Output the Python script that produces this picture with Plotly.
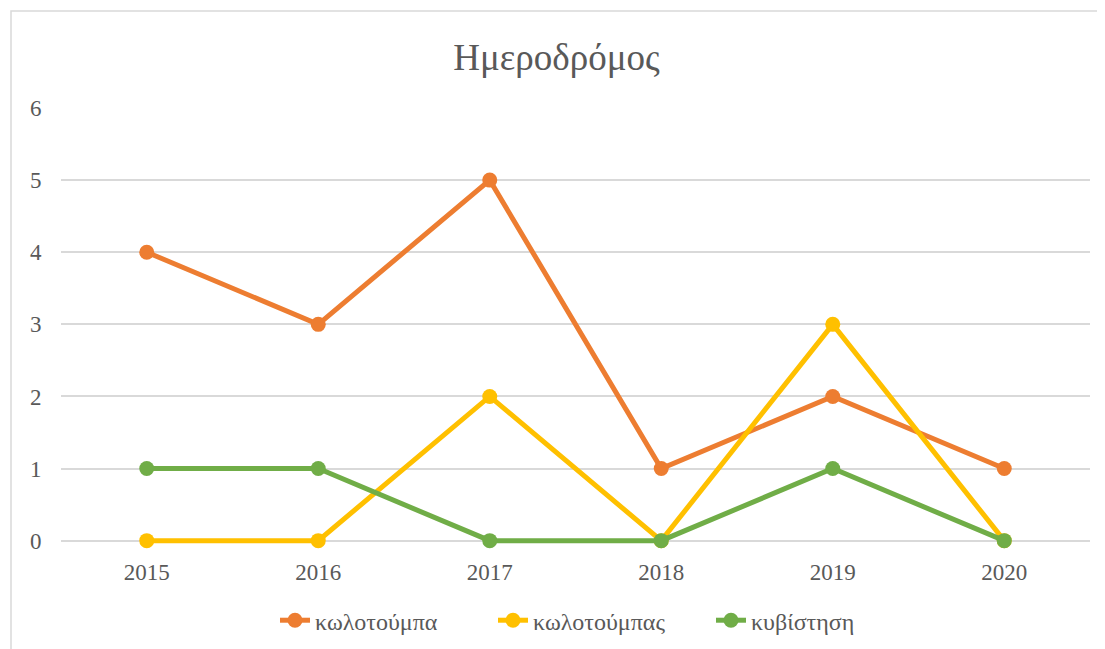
import plotly.graph_objects as go

years = ["2015", "2016", "2017", "2018", "2019", "2020"]
kolotoumpa = [4, 3, 5, 1, 2, 1]
kolotoumpas = [0, 0, 2, 0, 3, 0]
kyvistisi = [1, 1, 0, 0, 1, 0]

series = [
    ("κωλοτούμπα", kolotoumpa, "#ED7D31"),
    ("κωλοτούμπας", kolotoumpas, "#FFC000"),
    ("κυβίστηση", kyvistisi, "#70AD47"),
]

fig = go.Figure()
for name, vals, col in series:
    fig.add_trace(go.Scatter(
        x=years, y=vals, name=name, mode="lines+markers",
        line=dict(color=col, width=5),
        marker=dict(color=col, size=15),
        cliponaxis=False,
    ))

OFF = 8  # page body margin
YMIN = -0.06
W, H = 1105 - OFF, 649 - OFF
unit = 433 / 6
L, R, T = 61 - OFF, 15, 108 - OFF
B = 108 - (-YMIN) * unit
pw, ph = W - L - R, H - T - B

def px(x):
    return (x - OFF - L) / pw

def py(y):
    return (H - B - (y - OFF)) / ph

fig.update_layout(
    width=W, height=H,
    margin=dict(l=L, r=R, t=T, b=B, autoexpand=False),
    paper_bgcolor="white", plot_bgcolor="white",
    font=dict(family="Liberation Serif, Times New Roman, serif", color="#595959", size=23),
    title=dict(text="Ημεροδρόμος", x=0.5, xanchor="center", y=1 - (57 - OFF) / H, yanchor="middle",
               font=dict(size=37, color="#595959")),
    xaxis=dict(type="category", range=[-0.5, 5.5], showgrid=False, showline=False,
               zeroline=False, ticks="outside", ticklen=6, tickcolor="rgba(0,0,0,0)",
               tickfont=dict(size=23, color="#595959"), automargin=False),
    yaxis=dict(range=[YMIN, 6], tick0=0, dtick=1, showgrid=True, gridcolor="#D9D9D9", gridwidth=1.5,
               zeroline=False, showline=False, ticks="outside", ticklen=14, tickcolor="rgba(0,0,0,0)",
               tickfont=dict(size=23, color="#595959"), automargin=False),
    legend=dict(orientation="h", x=px(602), xanchor="center", y=py(621), yanchor="middle",
                font=dict(size=24, color="#595959"), entrywidth=173, entrywidthmode="pixels"),
    showlegend=True,
    shapes=[dict(type="rect", xref="paper", yref="paper",
                 x0=px(11), x1=px(1115), y0=py(665), y1=py(11),
                 line=dict(color="#D9D9D9", width=1.5), fillcolor="rgba(0,0,0,0)", layer="below")],
)

fig.write_html("out.html")
